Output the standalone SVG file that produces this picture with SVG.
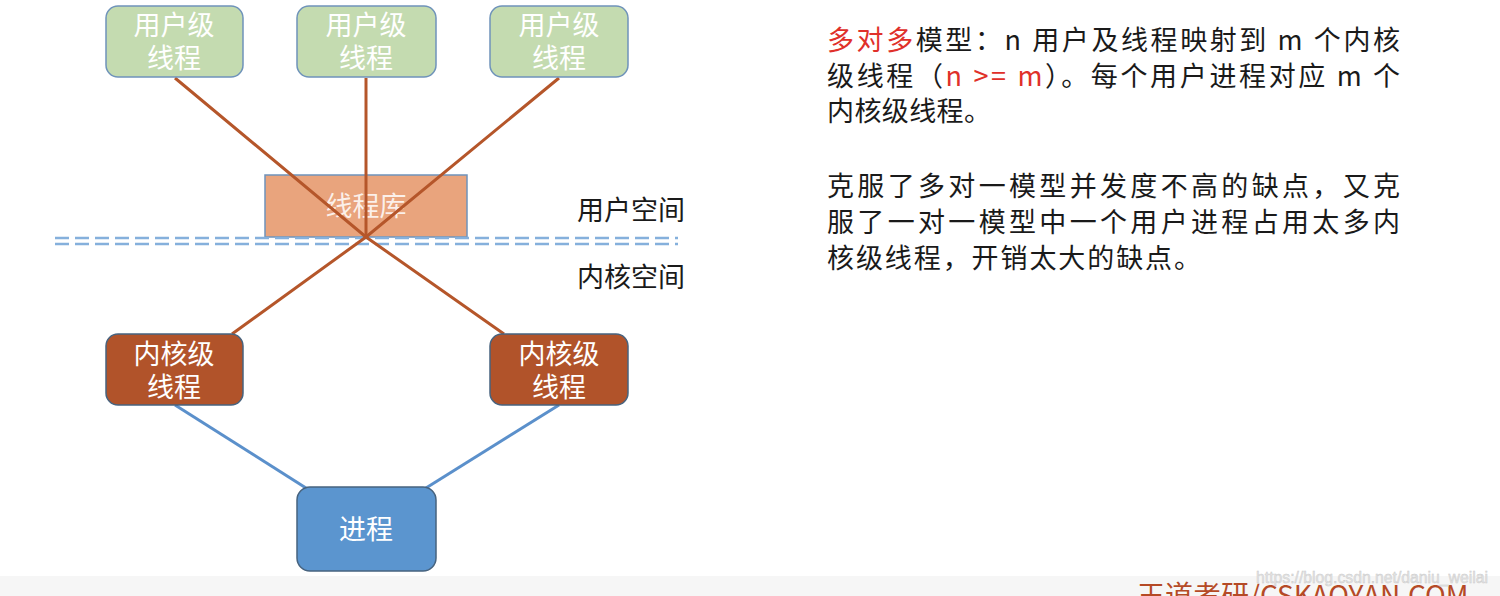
<svg xmlns="http://www.w3.org/2000/svg" width="1500" height="596" viewBox="0 0 1500 596">
<style>
.cjk{font-family:"Noto Sans CJK SC","Liberation Sans",sans-serif}
.lbl{font-size:27px;fill:#ffffff;text-anchor:middle}
.user rect{fill:#c4dbb0;stroke:#6f93ba;stroke-width:1.5}
.kern rect{fill:#b1532a;stroke:#47637f;stroke-width:1.5}
.orange{stroke:#b5562a;stroke-width:3;fill:none}
.blue{stroke:#5b90cb;stroke-width:3;fill:none}
.body{font-size:27px;fill:#1a1a1a}
.red{fill:#e0302a}
</style>
<rect width="1500" height="596" fill="#ffffff"/>
<rect x="0" y="576" width="1500" height="20" fill="#f6f6f6"/>
<g id="lib">
<rect x="265" y="175" width="202" height="62" fill="#e9a47d" stroke="#6f93ba" stroke-width="1.5"/>
<text class="cjk lbl" x="366" y="216" fill-opacity="0.85">线程库</text>
</g>
<g id="boundary">
<line x1="55" y1="238" x2="678" y2="238" stroke="#85b0dc" stroke-width="2.5" stroke-dasharray="14,6"/>
<line x1="55" y1="244" x2="678" y2="244" stroke="#85b0dc" stroke-width="2.5" stroke-dasharray="14,6"/>
</g>
<g id="connectors">
<polyline class="orange" points="175,78 366,237 504,334"/>
<polyline class="orange" points="559,78 366,237 232,334"/>
<line class="orange" x1="366" y1="78" x2="366" y2="237"/>
<line class="blue" x1="175" y1="405" x2="306" y2="488"/>
<line class="blue" x1="559" y1="405" x2="426" y2="488"/>
</g>
<g id="u1" class="user"><rect x="106" y="6" width="137" height="71" rx="12"/><text class="cjk lbl" x="174" y="35">用户级</text><text class="cjk lbl" x="174" y="68">线程</text></g>
<g id="u2" class="user"><rect x="297" y="6" width="139" height="71" rx="12"/><text class="cjk lbl" x="366" y="35">用户级</text><text class="cjk lbl" x="366" y="68">线程</text></g>
<g id="u3" class="user"><rect x="490" y="6" width="138" height="71" rx="12"/><text class="cjk lbl" x="559" y="35">用户级</text><text class="cjk lbl" x="559" y="68">线程</text></g>
<g id="k1" class="kern"><rect x="106" y="334" width="137" height="71" rx="12"/><text class="cjk lbl" x="174" y="364">内核级</text><text class="cjk lbl" x="174" y="397">线程</text></g>
<g id="k2" class="kern"><rect x="490" y="334" width="138" height="71" rx="12"/><text class="cjk lbl" x="559" y="364">内核级</text><text class="cjk lbl" x="559" y="397">线程</text></g>
<g id="proc"><rect x="297" y="487" width="139" height="84" rx="13" fill="#5b95cf" stroke="#47637f" stroke-width="1.5"/><text class="cjk lbl" x="366" y="539">进程</text></g>
<text class="cjk" x="577" y="220" font-size="27" fill="#1a1a1a">用户空间</text>
<text class="cjk" x="577" y="287" font-size="27" fill="#1a1a1a">内核空间</text>
<g id="desc" class="cjk body">
<text x="827" y="50" textLength="573" lengthAdjust="spacing"><tspan class="red">多对多</tspan>模型：n 用户及线程映射到 m 个内核</text>
<text x="827" y="86" textLength="573" lengthAdjust="spacing">级线程（<tspan class="red">n &gt;= m</tspan>）。每个用户进程对应 m 个</text>
<text x="827" y="121" textLength="164" lengthAdjust="spacing">内核级线程。</text>
<text x="827" y="196" textLength="573" lengthAdjust="spacing">克服了多对一模型并发度不高的缺点，又克</text>
<text x="827" y="232" textLength="573" lengthAdjust="spacing">服了一对一模型中一个用户进程占用太多内</text>
<text x="827" y="268" textLength="374" lengthAdjust="spacing">核级线程，开销太大的缺点。</text>
</g>
<text class="cjk" x="1137" y="606" font-size="28" fill="#b54a26">王道考研/CSKAOYAN.COM</text>
<text x="1256" y="583" font-family="Liberation Sans, sans-serif" font-size="16" textLength="232" lengthAdjust="spacingAndGlyphs" fill="#e4e4e4" stroke="#c8c8c8" stroke-width="0.4">https://blog.csdn.net/daniu_weilai</text>
</svg>
